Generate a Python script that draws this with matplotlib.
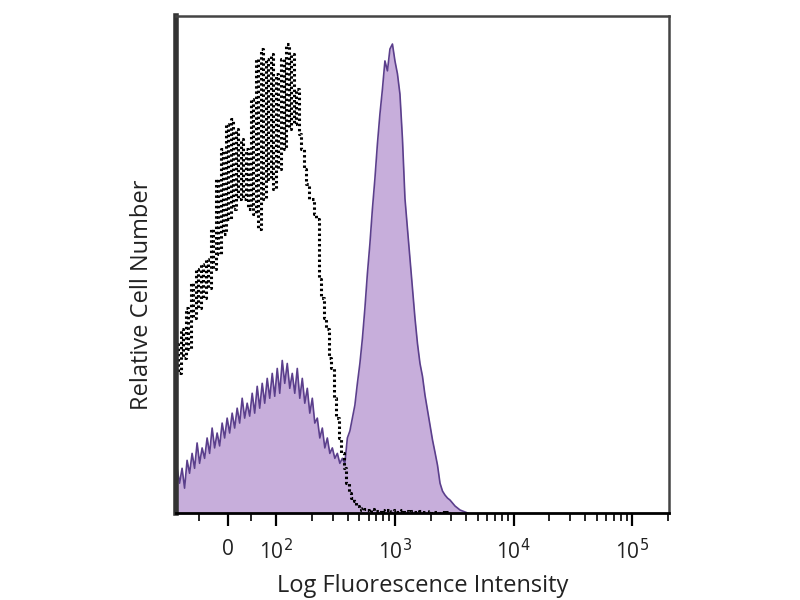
import matplotlib.pyplot as plt
import numpy as np

# histogram bins: display units (decades on the biexponential axis)
X0 = 1.165
STEP = 0.0211

# isotype control (dotted black), relative counts
control_counts = [
    34.1, 28.1, 37.1, 31.1, 41.2, 33.1, 46.2, 39.2, 49.2, 41.2,
    50.2, 43.2, 51.2, 45.2, 57.2, 49.2, 67.3, 52.2, 73.3, 56.2,
    78.3, 59.2, 79.3, 61.2, 77.3, 63.3, 75.3, 63.3, 73.3, 61.2,
    83.3, 60.2, 91.4, 57.2, 93.4, 63.3, 91.4, 67.3, 92.4, 65.3,
    88.4, 69.3, 91.4, 73.3, 94.4, 77.3, 92.4, 78.3, 85.3, 76.3,
    73.3, 69.3, 66.3, 63.3, 63.3, 60.2, 59.2, 47.2, 43.2, 39.2,
    37.1, 31.1, 29.1, 23.1, 19.1, 15.1, 12.0, 9.0, 6.0, 4.0,
    3.0, 2.4, 1.4, 1.0, 0.6, 0.8, 0.6, 0.3, 0.8, 0.4,
    0.5, 0.2, 0.6, 0.4, 0.7, 0.3, 0.5, 0.6, 0.3, 0.4,
    0.6, 0.2, 0.5, 0.3, 0.4, 0.2, 0.3, 0.5, 0.2, 0.3,
    0.2, 0.4, 0.1, 0.2, 0.3, 0.1, 0.2, 0.1, 0.2, 0.1,
]

# stained sample (filled purple), relative counts
stained_counts = [
    9.0, 6.0, 9.0, 5.0, 10.6, 8.0, 12.0, 9.0, 14.1, 10.0,
    13.1, 11.0, 15.1, 12.0, 17.1, 13.1, 16.1, 13.5, 18.1, 15.1,
    19.1, 16.1, 20.1, 17.1, 21.1, 18.1, 23.1, 19.1, 22.1, 19.5,
    24.1, 20.1, 25.5, 21.1, 26.1, 22.1, 27.1, 23.1, 28.1, 23.5,
    29.1, 24.1, 30.7, 26.1, 30.1, 25.1, 28.1, 24.1, 29.1, 23.1,
    27.1, 22.1, 25.1, 20.1, 23.1, 18.1, 19.1, 15.1, 17.1, 13.1,
    15.1, 12.0, 13.1, 11.0, 12.0, 10.0, 11.0, 10.0,
    15.1, 16.5, 19.1, 21.7, 26.1, 30.1, 35.1, 41.2, 48.2, 54.2,
    61.2, 67.3, 74.3, 80.3, 85.3, 91.0, 89.0, 93.4, 94.4, 91.0,
    88.4, 84.3, 75.3, 63.3, 57.2, 51.2, 45.2, 39.2, 34.1, 30.1,
    27.5, 23.7, 20.7, 17.7, 14.7, 12.2, 9.6, 6.0, 4.4, 3.6,
    3.0, 2.6, 2.0, 1.4, 1.0, 0.6, 0.4, 0.2, 0.0,
]

major_ticks = [1.59, 2.0, 3.0, 4.0, 5.0]
major_labels = ["0", "10$^2$", "10$^3$", "10$^4$", "10$^5$"]
linear_minor = [1.35, 1.79]


def main():
    plt.rcParams["font.family"] = ["Open Sans", "DejaVu Sans"]

    x_ctrl = X0 + STEP * np.arange(len(control_counts))
    x_stain = X0 + STEP * np.arange(len(stained_counts))

    fig = plt.figure(figsize=(8, 6), dpi=100)
    ax = fig.add_axes([0.22, 0.145, 0.616, 0.828])

    ax.fill_between(x_stain, stained_counts, color="#c7aedb", lw=0)
    ax.plot(x_stain, stained_counts, color="#5b3f8c", lw=1.2)
    ax.plot(
        x_ctrl,
        control_counts,
        drawstyle="steps-mid",
        color="black",
        lw=2.2,
        linestyle=(0, (0.8, 0.9)),
    )

    ax.set_xlim(1.156, 5.308)
    ax.set_ylim(0, 100)

    log_minor = [k + np.log10(m) for k in (2, 3, 4, 5) for m in range(2, 10)]
    log_minor = [v for v in log_minor if v < 5.308]
    ax.set_xticks(major_ticks)
    ax.set_xticklabels(major_labels, fontsize=15, color="#222222")
    ax.set_xticks(linear_minor + log_minor, minor=True)
    ax.tick_params(axis="x", which="major", direction="out", length=9, width=1.6, pad=10)
    ax.tick_params(axis="x", which="minor", direction="out", length=6, width=1.2)
    ax.set_yticks([])

    for side in ["top", "right"]:
        ax.spines[side].set_color("#444444")
        ax.spines[side].set_linewidth(1.8)
    ax.spines["bottom"].set_color("black")
    ax.spines["bottom"].set_linewidth(2)
    ax.spines["left"].set_color("#333333")
    ax.spines["left"].set_linewidth(4)

    ax.set_xlabel("Log Fluorescence Intensity", fontsize=17, color="#222222", labelpad=7)
    ax.set_ylabel("Relative Cell Number", fontsize=17, color="#222222")
    ax.yaxis.set_label_coords(-0.045, 0.44)

    fig.savefig("out.png", dpi=100)
    plt.close(fig)


if __name__ == "__main__":
    main()
